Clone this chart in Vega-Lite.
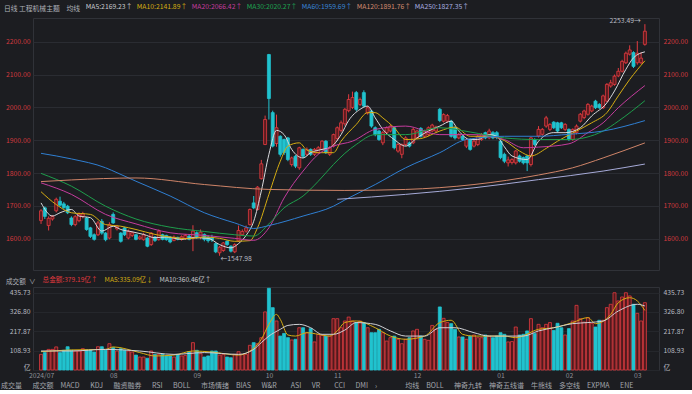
{
"$schema":"https://vega.github.io/schema/vega-lite/v6.json",
"background":"#1c1d21",
"padding":0,
"spacing":2,
"config":{"font":"Noto Sans CJK SC","view":{"stroke":"#303238","strokeWidth":1},"axis":{"labelFont":"Noto Sans CJK SC"},"legend":{"labelFont":"Noto Sans CJK SC","titleFont":"Noto Sans CJK SC"}},
"resolve":{"scale":{"color":"independent","x":"independent"},"legend":{"color":"independent"}},
"datasets":{
"k":[
{"d":"2024-07-05","i":0,"o":1655,"h":1690,"l":1645,"c":1685,"v":88},
{"d":"2024-07-08","i":1,"o":1694,"h":1698,"l":1660,"c":1668,"v":98},
{"d":"2024-07-09","i":2,"o":1640,"h":1668,"l":1625,"c":1662,"v":116},
{"d":"2024-07-10","i":3,"o":1660,"h":1672,"l":1655,"c":1668,"v":116},
{"d":"2024-07-11","i":4,"o":1685,"h":1725,"l":1680,"c":1720,"v":130},
{"d":"2024-07-12","i":5,"o":1714,"h":1728,"l":1698,"c":1702,"v":98},
{"d":"2024-07-15","i":6,"o":1706,"h":1712,"l":1690,"c":1695,"v":111},
{"d":"2024-07-16","i":7,"o":1699,"h":1703,"l":1675,"c":1679,"v":131},
{"d":"2024-07-17","i":8,"o":1663,"h":1668,"l":1638,"c":1643,"v":111},
{"d":"2024-07-18","i":9,"o":1643,"h":1672,"l":1638,"c":1667,"v":107},
{"d":"2024-07-19","i":10,"o":1655,"h":1680,"l":1650,"c":1674,"v":107},
{"d":"2024-07-22","i":11,"o":1668,"h":1682,"l":1662,"c":1676,"v":120},
{"d":"2024-07-23","i":12,"o":1663,"h":1666,"l":1624,"c":1628,"v":112},
{"d":"2024-07-24","i":13,"o":1633,"h":1636,"l":1602,"c":1607,"v":112},
{"d":"2024-07-25","i":14,"o":1612,"h":1616,"l":1594,"c":1598,"v":101},
{"d":"2024-07-26","i":15,"o":1612,"h":1654,"l":1608,"c":1648,"v":131},
{"d":"2024-07-29","i":16,"o":1653,"h":1660,"l":1612,"c":1617,"v":131},
{"d":"2024-07-30","i":17,"o":1617,"h":1620,"l":1592,"c":1597,"v":112},
{"d":"2024-07-31","i":18,"o":1602,"h":1650,"l":1598,"c":1643,"v":148},
{"d":"2024-08-01","i":19,"o":1674,"h":1680,"l":1645,"c":1648,"v":126},
{"d":"2024-08-02","i":20,"o":1630,"h":1642,"l":1625,"c":1638,"v":107},
{"d":"2024-08-05","i":21,"o":1617,"h":1620,"l":1588,"c":1592,"v":120},
{"d":"2024-08-06","i":22,"o":1633,"h":1636,"l":1608,"c":1612,"v":111},
{"d":"2024-08-07","i":23,"o":1602,"h":1628,"l":1598,"c":1623,"v":107},
{"d":"2024-08-08","i":24,"o":1610,"h":1622,"l":1605,"c":1618,"v":101},
{"d":"2024-08-09","i":25,"o":1612,"h":1615,"l":1595,"c":1598,"v":84},
{"d":"2024-08-12","i":26,"o":1600,"h":1610,"l":1596,"c":1605,"v":73},
{"d":"2024-08-13","i":27,"o":1597,"h":1618,"l":1594,"c":1612,"v":73},
{"d":"2024-08-14","i":28,"o":1602,"h":1605,"l":1574,"c":1577,"v":66},
{"d":"2024-08-15","i":29,"o":1582,"h":1620,"l":1578,"c":1617,"v":107},
{"d":"2024-08-16","i":30,"o":1605,"h":1608,"l":1590,"c":1595,"v":88},
{"d":"2024-08-19","i":31,"o":1597,"h":1628,"l":1594,"c":1623,"v":88},
{"d":"2024-08-20","i":32,"o":1612,"h":1615,"l":1595,"c":1598,"v":88},
{"d":"2024-08-21","i":33,"o":1610,"h":1612,"l":1594,"c":1597,"v":79},
{"d":"2024-08-22","i":34,"o":1605,"h":1608,"l":1586,"c":1590,"v":79},
{"d":"2024-08-23","i":35,"o":1595,"h":1610,"l":1592,"c":1605,"v":73},
{"d":"2024-08-26","i":36,"o":1604,"h":1606,"l":1595,"c":1598,"v":88},
{"d":"2024-08-27","i":37,"o":1598,"h":1610,"l":1594,"c":1606,"v":79},
{"d":"2024-08-28","i":38,"o":1600,"h":1614,"l":1596,"c":1610,"v":82},
{"d":"2024-08-29","i":39,"o":1608,"h":1612,"l":1595,"c":1598,"v":103},
{"d":"2024-08-30","i":40,"o":1604,"h":1641,"l":1562,"c":1623,"v":154},
{"d":"2024-09-02","i":41,"o":1618,"h":1622,"l":1600,"c":1605,"v":111},
{"d":"2024-09-03","i":42,"o":1604,"h":1628,"l":1598,"c":1620,"v":92},
{"d":"2024-09-04","i":43,"o":1613,"h":1616,"l":1592,"c":1598,"v":73},
{"d":"2024-09-05","i":44,"o":1605,"h":1610,"l":1588,"c":1594,"v":79},
{"d":"2024-09-06","i":45,"o":1603,"h":1612,"l":1590,"c":1596,"v":107},
{"d":"2024-09-09","i":46,"o":1585,"h":1588,"l":1556,"c":1560,"v":107},
{"d":"2024-09-10","i":47,"o":1557,"h":1578,"l":1547.98,"c":1574,"v":84},
{"d":"2024-09-11","i":48,"o":1564,"h":1590,"l":1560,"c":1587,"v":88},
{"d":"2024-09-12","i":49,"o":1592,"h":1595,"l":1578,"c":1582,"v":73},
{"d":"2024-09-13","i":50,"o":1577,"h":1580,"l":1558,"c":1562,"v":69},
{"d":"2024-09-18","i":51,"o":1560,"h":1586,"l":1556,"c":1582,"v":88},
{"d":"2024-09-19","i":52,"o":1593,"h":1640,"l":1590,"c":1625,"v":103},
{"d":"2024-09-20","i":53,"o":1612,"h":1628,"l":1608,"c":1622,"v":88},
{"d":"2024-09-23","i":54,"o":1623,"h":1640,"l":1618,"c":1633,"v":88},
{"d":"2024-09-24","i":55,"o":1643,"h":1692,"l":1640,"c":1689,"v":139},
{"d":"2024-09-25","i":56,"o":1709,"h":1730,"l":1690,"c":1694,"v":154},
{"d":"2024-09-26","i":57,"o":1689,"h":1760,"l":1686,"c":1757,"v":148},
{"d":"2024-09-27","i":58,"o":1783,"h":1840,"l":1780,"c":1828,"v":182},
{"d":"2024-09-30","i":59,"o":1887,"h":1975,"l":1885,"c":1963,"v":327},
{"d":"2024-10-08","i":60,"o":2161,"h":2163,"l":1963,"c":2027,"v":460},
{"d":"2024-10-09","i":61,"o":1984,"h":1990,"l":1878,"c":1882,"v":351},
{"d":"2024-10-10","i":62,"o":1890,"h":1978,"l":1880,"c":1938,"v":276},
{"d":"2024-10-11","i":63,"o":1912,"h":1915,"l":1850,"c":1857,"v":191},
{"d":"2024-10-14","i":64,"o":1902,"h":1905,"l":1855,"c":1862,"v":206},
{"d":"2024-10-15","i":65,"o":1907,"h":1910,"l":1836,"c":1841,"v":182},
{"d":"2024-10-16","i":66,"o":1826,"h":1850,"l":1820,"c":1846,"v":169},
{"d":"2024-10-17","i":67,"o":1851,"h":1855,"l":1815,"c":1821,"v":173},
{"d":"2024-10-18","i":68,"o":1816,"h":1880,"l":1810,"c":1877,"v":238},
{"d":"2024-10-21","i":69,"o":1872,"h":1875,"l":1845,"c":1851,"v":238},
{"d":"2024-10-22","i":70,"o":1857,"h":1878,"l":1852,"c":1872,"v":210},
{"d":"2024-10-23","i":71,"o":1872,"h":1875,"l":1852,"c":1857,"v":233},
{"d":"2024-10-24","i":72,"o":1857,"h":1876,"l":1852,"c":1872,"v":158},
{"d":"2024-10-25","i":73,"o":1862,"h":1882,"l":1858,"c":1877,"v":201},
{"d":"2024-10-28","i":74,"o":1872,"h":1900,"l":1868,"c":1897,"v":195},
{"d":"2024-10-29","i":75,"o":1897,"h":1900,"l":1858,"c":1862,"v":191},
{"d":"2024-10-30","i":76,"o":1857,"h":1882,"l":1852,"c":1877,"v":191},
{"d":"2024-10-31","i":77,"o":1882,"h":1920,"l":1878,"c":1917,"v":289},
{"d":"2024-11-01","i":78,"o":1905,"h":1942,"l":1898,"c":1938,"v":289},
{"d":"2024-11-04","i":79,"o":1930,"h":1960,"l":1924,"c":1953,"v":238},
{"d":"2024-11-05","i":80,"o":1950,"h":1998,"l":1944,"c":1994,"v":276},
{"d":"2024-11-06","i":81,"o":1990,"h":2040,"l":1985,"c":2024,"v":298},
{"d":"2024-11-07","i":82,"o":2000,"h":2048,"l":1995,"c":2030,"v":276},
{"d":"2024-11-08","i":83,"o":2045,"h":2050,"l":1988,"c":1994,"v":267},
{"d":"2024-11-11","i":84,"o":2009,"h":2030,"l":2004,"c":2024,"v":276},
{"d":"2024-11-12","i":85,"o":2045,"h":2052,"l":2000,"c":2004,"v":267},
{"d":"2024-11-13","i":86,"o":1983,"h":2004,"l":1978,"c":1999,"v":238},
{"d":"2024-11-14","i":87,"o":1989,"h":1992,"l":1938,"c":1943,"v":210},
{"d":"2024-11-15","i":88,"o":1938,"h":1942,"l":1912,"c":1917,"v":210},
{"d":"2024-11-18","i":89,"o":1928,"h":1932,"l":1898,"c":1902,"v":229},
{"d":"2024-11-19","i":90,"o":1892,"h":1928,"l":1885,"c":1923,"v":210},
{"d":"2024-11-20","i":91,"o":1923,"h":1942,"l":1918,"c":1938,"v":163},
{"d":"2024-11-21","i":92,"o":1928,"h":1946,"l":1924,"c":1943,"v":182},
{"d":"2024-11-22","i":93,"o":1938,"h":1942,"l":1872,"c":1877,"v":191},
{"d":"2024-11-25","i":94,"o":1867,"h":1892,"l":1862,"c":1887,"v":173},
{"d":"2024-11-26","i":95,"o":1857,"h":1890,"l":1845,"c":1887,"v":148},
{"d":"2024-11-27","i":96,"o":1887,"h":1912,"l":1882,"c":1907,"v":173},
{"d":"2024-11-28","i":97,"o":1892,"h":1896,"l":1878,"c":1882,"v":182},
{"d":"2024-11-29","i":98,"o":1892,"h":1938,"l":1888,"c":1933,"v":220},
{"d":"2024-12-02","i":99,"o":1907,"h":1932,"l":1903,"c":1928,"v":229},
{"d":"2024-12-03","i":100,"o":1936,"h":1940,"l":1908,"c":1912,"v":191},
{"d":"2024-12-04","i":101,"o":1912,"h":1932,"l":1908,"c":1928,"v":173},
{"d":"2024-12-05","i":102,"o":1917,"h":1942,"l":1913,"c":1938,"v":167},
{"d":"2024-12-06","i":103,"o":1928,"h":1950,"l":1924,"c":1946,"v":251},
{"d":"2024-12-09","i":104,"o":1928,"h":1944,"l":1924,"c":1940,"v":229},
{"d":"2024-12-10","i":105,"o":1994,"h":1998,"l":1955,"c":1960,"v":355},
{"d":"2024-12-11","i":106,"o":1958,"h":1982,"l":1954,"c":1978,"v":291},
{"d":"2024-12-12","i":107,"o":1958,"h":1980,"l":1954,"c":1975,"v":267},
{"d":"2024-12-13","i":108,"o":1958,"h":1962,"l":1908,"c":1912,"v":261},
{"d":"2024-12-16","i":109,"o":1938,"h":1942,"l":1902,"c":1907,"v":229},
{"d":"2024-12-17","i":110,"o":1907,"h":1922,"l":1903,"c":1917,"v":186},
{"d":"2024-12-18","i":111,"o":1912,"h":1916,"l":1898,"c":1902,"v":186},
{"d":"2024-12-19","i":112,"o":1882,"h":1906,"l":1876,"c":1902,"v":173},
{"d":"2024-12-20","i":113,"o":1902,"h":1906,"l":1868,"c":1872,"v":191},
{"d":"2024-12-23","i":114,"o":1882,"h":1902,"l":1878,"c":1897,"v":197},
{"d":"2024-12-24","i":115,"o":1887,"h":1916,"l":1882,"c":1912,"v":182},
{"d":"2024-12-25","i":116,"o":1902,"h":1922,"l":1898,"c":1917,"v":182},
{"d":"2024-12-26","i":117,"o":1923,"h":1926,"l":1903,"c":1907,"v":197},
{"d":"2024-12-27","i":118,"o":1907,"h":1935,"l":1903,"c":1928,"v":191},
{"d":"2024-12-30","i":119,"o":1923,"h":1928,"l":1903,"c":1907,"v":182},
{"d":"2024-12-31","i":120,"o":1923,"h":1928,"l":1903,"c":1908,"v":191},
{"d":"2025-01-02","i":121,"o":1897,"h":1902,"l":1842,"c":1847,"v":210},
{"d":"2025-01-03","i":122,"o":1857,"h":1862,"l":1830,"c":1836,"v":201},
{"d":"2025-01-06","i":123,"o":1831,"h":1850,"l":1820,"c":1840,"v":158},
{"d":"2025-01-07","i":124,"o":1832,"h":1845,"l":1826,"c":1841,"v":160},
{"d":"2025-01-08","i":125,"o":1831,"h":1870,"l":1826,"c":1867,"v":242},
{"d":"2025-01-09","i":126,"o":1852,"h":1856,"l":1832,"c":1836,"v":197},
{"d":"2025-01-10","i":127,"o":1847,"h":1850,"l":1826,"c":1831,"v":201},
{"d":"2025-01-13","i":128,"o":1852,"h":1855,"l":1806,"c":1831,"v":220},
{"d":"2025-01-14","i":129,"o":1826,"h":1910,"l":1820,"c":1907,"v":289},
{"d":"2025-01-15","i":130,"o":1902,"h":1906,"l":1882,"c":1887,"v":205},
{"d":"2025-01-16","i":131,"o":1913,"h":1943,"l":1908,"c":1933,"v":257},
{"d":"2025-01-17","i":132,"o":1918,"h":1937,"l":1914,"c":1933,"v":238},
{"d":"2025-01-20","i":133,"o":1943,"h":1974,"l":1938,"c":1968,"v":257},
{"d":"2025-01-21","i":134,"o":1933,"h":1952,"l":1928,"c":1948,"v":267},
{"d":"2025-01-22","i":135,"o":1955,"h":1958,"l":1934,"c":1938,"v":223},
{"d":"2025-01-23","i":136,"o":1953,"h":1956,"l":1924,"c":1928,"v":263},
{"d":"2025-01-24","i":137,"o":1953,"h":1956,"l":1934,"c":1938,"v":238},
{"d":"2025-01-27","i":138,"o":1933,"h":1952,"l":1928,"c":1948,"v":197},
{"d":"2025-02-05","i":139,"o":1933,"h":1936,"l":1898,"c":1902,"v":233},
{"d":"2025-02-06","i":140,"o":1902,"h":1936,"l":1898,"c":1933,"v":276},
{"d":"2025-02-07","i":141,"o":1923,"h":1948,"l":1918,"c":1943,"v":364},
{"d":"2025-02-10","i":142,"o":1958,"h":1983,"l":1954,"c":1979,"v":289},
{"d":"2025-02-11","i":143,"o":1969,"h":1993,"l":1964,"c":1989,"v":270},
{"d":"2025-02-12","i":144,"o":1979,"h":2013,"l":1975,"c":2009,"v":295},
{"d":"2025-02-13","i":145,"o":1989,"h":2008,"l":1985,"c":2004,"v":263},
{"d":"2025-02-14","i":146,"o":2019,"h":2023,"l":1995,"c":1999,"v":242},
{"d":"2025-02-17","i":147,"o":2009,"h":2013,"l":1995,"c":1999,"v":280},
{"d":"2025-02-18","i":148,"o":1999,"h":2039,"l":1995,"c":2035,"v":280},
{"d":"2025-02-19","i":149,"o":2019,"h":2074,"l":2015,"c":2070,"v":351},
{"d":"2025-02-20","i":150,"o":2065,"h":2084,"l":2060,"c":2075,"v":370},
{"d":"2025-02-21","i":151,"o":2070,"h":2100,"l":2066,"c":2095,"v":435},
{"d":"2025-02-24","i":152,"o":2096,"h":2120,"l":2092,"c":2110,"v":389},
{"d":"2025-02-25","i":153,"o":2110,"h":2145,"l":2106,"c":2140,"v":411},
{"d":"2025-02-26","i":154,"o":2136,"h":2170,"l":2132,"c":2165,"v":435},
{"d":"2025-02-27","i":155,"o":2162,"h":2189,"l":2158,"c":2175,"v":417},
{"d":"2025-02-28","i":156,"o":2167,"h":2171,"l":2120,"c":2125,"v":370},
{"d":"2025-03-03","i":157,"o":2136,"h":2202,"l":2130,"c":2165,"v":319},
{"d":"2025-03-04","i":158,"o":2136,"h":2168,"l":2132,"c":2150,"v":276},
{"d":"2025-03-05","i":159,"o":2192,"h":2253.49,"l":2188,"c":2232,"v":379.19}
],
"ma":[
{"s":"MA5","i":0,"p":1709},{"s":"MA5","i":3,"p":1669},{"s":"MA5","i":5,"p":1679},{"s":"MA5","i":8,"p":1689},{"s":"MA5","i":10,"p":1669},{"s":"MA5","i":13,"p":1664},{"s":"MA5","i":16,"p":1623},{"s":"MA5","i":19,"p":1638},{"s":"MA5","i":21,"p":1628},{"s":"MA5","i":24,"p":1621},{"s":"MA5","i":27,"p":1613},{"s":"MA5","i":30,"p":1603},{"s":"MA5","i":33,"p":1605},{"s":"MA5","i":37,"p":1598},{"s":"MA5","i":40,"p":1603},{"s":"MA5","i":44,"p":1601},{"s":"MA5","i":47,"p":1582},{"s":"MA5","i":50,"p":1572},{"s":"MA5","i":52,"p":1585},{"s":"MA5","i":54,"p":1610},{"s":"MA5","i":56,"p":1653},{"s":"MA5","i":58,"p":1745},{"s":"MA5","i":60,"p":1857},{"s":"MA5","i":62,"p":1930},{"s":"MA5","i":64,"p":1917},{"s":"MA5","i":66,"p":1872},{"s":"MA5","i":69,"p":1846},{"s":"MA5","i":71,"p":1862},{"s":"MA5","i":74,"p":1872},{"s":"MA5","i":76,"p":1877},{"s":"MA5","i":79,"p":1917},{"s":"MA5","i":81,"p":1960},{"s":"MA5","i":84,"p":1994},{"s":"MA5","i":86,"p":2004},{"s":"MA5","i":88,"p":1968},{"s":"MA5","i":90,"p":1933},{"s":"MA5","i":93,"p":1902},{"s":"MA5","i":96,"p":1882},{"s":"MA5","i":99,"p":1907},{"s":"MA5","i":102,"p":1928},{"s":"MA5","i":105,"p":1943},{"s":"MA5","i":108,"p":1958},{"s":"MA5","i":110,"p":1928},{"s":"MA5","i":113,"p":1902},{"s":"MA5","i":115,"p":1902},{"s":"MA5","i":118,"p":1917},{"s":"MA5","i":120,"p":1912},{"s":"MA5","i":122,"p":1880},{"s":"MA5","i":124,"p":1852},{"s":"MA5","i":128,"p":1841},{"s":"MA5","i":131,"p":1897},{"s":"MA5","i":135,"p":1923},{"s":"MA5","i":138,"p":1923},{"s":"MA5","i":142,"p":1938},{"s":"MA5","i":145,"p":1974},{"s":"MA5","i":149,"p":2014},{"s":"MA5","i":151,"p":2050},{"s":"MA5","i":154,"p":2116},{"s":"MA5","i":156,"p":2151},{"s":"MA5","i":159,"p":2169.23},
{"s":"MA10","i":0,"p":1743},{"s":"MA10","i":4,"p":1704},{"s":"MA10","i":8,"p":1679},{"s":"MA10","i":13,"p":1674},{"s":"MA10","i":17,"p":1643},{"s":"MA10","i":21,"p":1638},{"s":"MA10","i":25,"p":1628},{"s":"MA10","i":30,"p":1613},{"s":"MA10","i":34,"p":1605},{"s":"MA10","i":39,"p":1600},{"s":"MA10","i":43,"p":1605},{"s":"MA10","i":47,"p":1601},{"s":"MA10","i":51,"p":1592},{"s":"MA10","i":55,"p":1594},{"s":"MA10","i":57,"p":1633},{"s":"MA10","i":60,"p":1735},{"s":"MA10","i":63,"p":1836},{"s":"MA10","i":65,"p":1882},{"s":"MA10","i":68,"p":1892},{"s":"MA10","i":70,"p":1870},{"s":"MA10","i":73,"p":1862},{"s":"MA10","i":77,"p":1862},{"s":"MA10","i":79,"p":1897},{"s":"MA10","i":83,"p":1948},{"s":"MA10","i":86,"p":1984},{"s":"MA10","i":88,"p":1984},{"s":"MA10","i":90,"p":1968},{"s":"MA10","i":93,"p":1938},{"s":"MA10","i":96,"p":1902},{"s":"MA10","i":100,"p":1905},{"s":"MA10","i":105,"p":1928},{"s":"MA10","i":109,"p":1940},{"s":"MA10","i":113,"p":1912},{"s":"MA10","i":118,"p":1912},{"s":"MA10","i":122,"p":1899},{"s":"MA10","i":126,"p":1867},{"s":"MA10","i":129,"p":1852},{"s":"MA10","i":133,"p":1875},{"s":"MA10","i":136,"p":1897},{"s":"MA10","i":141,"p":1928},{"s":"MA10","i":145,"p":1953},{"s":"MA10","i":149,"p":1984},{"s":"MA10","i":152,"p":2035},{"s":"MA10","i":155,"p":2085},{"s":"MA10","i":159,"p":2141.89},
{"s":"MA20","i":0,"p":1770},{"s":"MA20","i":8,"p":1735},{"s":"MA20","i":17,"p":1674},{"s":"MA20","i":25,"p":1645},{"s":"MA20","i":34,"p":1618},{"s":"MA20","i":43,"p":1610},{"s":"MA20","i":51,"p":1601},{"s":"MA20","i":56,"p":1595},{"s":"MA20","i":60,"p":1633},{"s":"MA20","i":64,"p":1724},{"s":"MA20","i":69,"p":1806},{"s":"MA20","i":73,"p":1857},{"s":"MA20","i":77,"p":1882},{"s":"MA20","i":82,"p":1897},{"s":"MA20","i":88,"p":1933},{"s":"MA20","i":96,"p":1943},{"s":"MA20","i":105,"p":1917},{"s":"MA20","i":114,"p":1917},{"s":"MA20","i":122,"p":1902},{"s":"MA20","i":127,"p":1877},{"s":"MA20","i":131,"p":1879},{"s":"MA20","i":139,"p":1889},{"s":"MA20","i":144,"p":1923},{"s":"MA20","i":148,"p":1953},{"s":"MA20","i":152,"p":1999},{"s":"MA20","i":159,"p":2066.42},
{"s":"MA30","i":0,"p":1799},{"s":"MA30","i":8,"p":1760},{"s":"MA30","i":17,"p":1699},{"s":"MA30","i":25,"p":1660},{"s":"MA30","i":34,"p":1635},{"s":"MA30","i":43,"p":1622},{"s":"MA30","i":51,"p":1612},{"s":"MA30","i":56,"p":1608},{"s":"MA30","i":60,"p":1645},{"s":"MA30","i":64,"p":1694},{"s":"MA30","i":69,"p":1730},{"s":"MA30","i":73,"p":1775},{"s":"MA30","i":77,"p":1826},{"s":"MA30","i":80,"p":1860},{"s":"MA30","i":83,"p":1887},{"s":"MA30","i":88,"p":1917},{"s":"MA30","i":96,"p":1917},{"s":"MA30","i":105,"p":1938},{"s":"MA30","i":113,"p":1925},{"s":"MA30","i":122,"p":1907},{"s":"MA30","i":131,"p":1902},{"s":"MA30","i":139,"p":1902},{"s":"MA30","i":148,"p":1928},{"s":"MA30","i":152,"p":1958},{"s":"MA30","i":159,"p":2020.27},
{"s":"MA60","i":0,"p":1860},{"s":"MA60","i":8,"p":1843},{"s":"MA60","i":17,"p":1816},{"s":"MA60","i":20,"p":1801},{"s":"MA60","i":25,"p":1775},{"s":"MA60","i":34,"p":1730},{"s":"MA60","i":43,"p":1679},{"s":"MA60","i":51,"p":1648},{"s":"MA60","i":56,"p":1631},{"s":"MA60","i":60,"p":1640},{"s":"MA60","i":69,"p":1669},{"s":"MA60","i":77,"p":1699},{"s":"MA60","i":80,"p":1718},{"s":"MA60","i":88,"p":1765},{"s":"MA60","i":96,"p":1816},{"s":"MA60","i":105,"p":1862},{"s":"MA60","i":112,"p":1902},{"s":"MA60","i":122,"p":1912},{"s":"MA60","i":131,"p":1912},{"s":"MA60","i":139,"p":1918},{"s":"MA60","i":148,"p":1928},{"s":"MA60","i":159,"p":1959.69},
{"s":"MA120","i":0,"p":1774},{"s":"MA120","i":8,"p":1779},{"s":"MA120","i":25,"p":1785},{"s":"MA120","i":43,"p":1765},{"s":"MA120","i":60,"p":1750},{"s":"MA120","i":80,"p":1747},{"s":"MA120","i":96,"p":1750},{"s":"MA120","i":114,"p":1765},{"s":"MA120","i":131,"p":1794},{"s":"MA120","i":140,"p":1816},{"s":"MA120","i":148,"p":1846},{"s":"MA120","i":159,"p":1891.76},
{"s":"MA250","i":78,"p":1720},{"s":"MA250","i":96,"p":1735},{"s":"MA250","i":114,"p":1755},{"s":"MA250","i":131,"p":1780},{"s":"MA250","i":148,"p":1806},{"s":"MA250","i":159,"p":1827.35}
],
"vma":[
{"s":"VMA5","i":0,"v":103},{"s":"VMA5","i":8,"v":113},{"s":"VMA5","i":17,"v":116},{"s":"VMA5","i":19,"v":130},{"s":"VMA5","i":26,"v":98},{"s":"VMA5","i":30,"v":79},{"s":"VMA5","i":35,"v":84},{"s":"VMA5","i":40,"v":107},{"s":"VMA5","i":45,"v":101},{"s":"VMA5","i":52,"v":84},{"s":"VMA5","i":55,"v":107},{"s":"VMA5","i":58,"v":173},{"s":"VMA5","i":60,"v":257},{"s":"VMA5","i":62,"v":313},{"s":"VMA5","i":63,"v":285},{"s":"VMA5","i":65,"v":197},{"s":"VMA5","i":67,"v":191},{"s":"VMA5","i":70,"v":210},{"s":"VMA5","i":73,"v":201},{"s":"VMA5","i":76,"v":191},{"s":"VMA5","i":78,"v":220},{"s":"VMA5","i":80,"v":267},{"s":"VMA5","i":83,"v":276},{"s":"VMA5","i":88,"v":238},{"s":"VMA5","i":92,"v":191},{"s":"VMA5","i":96,"v":173},{"s":"VMA5","i":101,"v":191},{"s":"VMA5","i":105,"v":267},{"s":"VMA5","i":108,"v":280},{"s":"VMA5","i":111,"v":201},{"s":"VMA5","i":114,"v":191},{"s":"VMA5","i":118,"v":191},{"s":"VMA5","i":122,"v":191},{"s":"VMA5","i":125,"v":182},{"s":"VMA5","i":131,"v":229},{"s":"VMA5","i":135,"v":238},{"s":"VMA5","i":140,"v":267},{"s":"VMA5","i":144,"v":295},{"s":"VMA5","i":146,"v":261},{"s":"VMA5","i":150,"v":313},{"s":"VMA5","i":152,"v":379},{"s":"VMA5","i":155,"v":407},{"s":"VMA5","i":157,"v":389},{"s":"VMA5","i":159,"v":335.09},
{"s":"VMA10","i":0,"v":107},{"s":"VMA10","i":8,"v":107},{"s":"VMA10","i":17,"v":116},{"s":"VMA10","i":26,"v":107},{"s":"VMA10","i":35,"v":88},{"s":"VMA10","i":43,"v":98},{"s":"VMA10","i":52,"v":88},{"s":"VMA10","i":56,"v":116},{"s":"VMA10","i":58,"v":154},{"s":"VMA10","i":60,"v":191},{"s":"VMA10","i":63,"v":229},{"s":"VMA10","i":65,"v":251},{"s":"VMA10","i":68,"v":257},{"s":"VMA10","i":71,"v":238},{"s":"VMA10","i":74,"v":201},{"s":"VMA10","i":77,"v":201},{"s":"VMA10","i":80,"v":225},{"s":"VMA10","i":83,"v":267},{"s":"VMA10","i":88,"v":257},{"s":"VMA10","i":92,"v":220},{"s":"VMA10","i":96,"v":191},{"s":"VMA10","i":101,"v":191},{"s":"VMA10","i":105,"v":238},{"s":"VMA10","i":109,"v":238},{"s":"VMA10","i":114,"v":210},{"s":"VMA10","i":118,"v":191},{"s":"VMA10","i":122,"v":191},{"s":"VMA10","i":127,"v":191},{"s":"VMA10","i":131,"v":220},{"s":"VMA10","i":135,"v":238},{"s":"VMA10","i":140,"v":261},{"s":"VMA10","i":144,"v":267},{"s":"VMA10","i":148,"v":276},{"s":"VMA10","i":152,"v":332},{"s":"VMA10","i":157,"v":370},{"s":"VMA10","i":159,"v":360.46}
],
"hi":[{"i":159,"p":2253.49,"t":"2253.49→"}],
"lo":[{"i":47,"p":1547.98,"t":"←1547.98"}]
},
"vconcat":[
{
"width":626,"height":252,
"layer":[
{"data":{"name":"k"},"mark":{"type":"rule","strokeWidth":1},
"encoding":{
"x":{"field":"i","type":"quantitative","scale":{"domain":[-0.8,161.4],"nice":false,"zero":false},"axis":null},
"y":{"field":"l","type":"quantitative","scale":{"domain":[1504.6,2272.3],"nice":false,"zero":false},"axis":{"orient":"left","values":[1600,1700,1800,1900,2000,2100,2200],"format":".2f","labelColor":"#d23a3f","labelFontSize":6.8,"ticks":false,"domain":false,"grid":true,"gridColor":"#2a2c32","labelPadding":3,"minExtent":32,"maxExtent":32,"title":null}},
"y2":{"field":"h"},
"color":{"condition":{"test":"datum.c >= datum.o","value":"#e23b40"},"value":"#21c3cf"}}},
{"data":{"name":"k"},"mark":{"type":"bar","size":3,"strokeWidth":0.8},
"encoding":{
"x":{"field":"i","type":"quantitative"},
"y":{"field":"o","type":"quantitative","scale":{"domain":[1504.6,2272.3],"nice":false,"zero":false},"axis":null},
"y2":{"field":"c"},
"fill":{"condition":{"test":"datum.c >= datum.o","value":"#5a1b1f"},"value":"#21c3cf"},
"stroke":{"condition":{"test":"datum.c >= datum.o","value":"#e23b40"},"value":"#21c3cf"}}},
{"data":{"name":"ma"},"mark":{"type":"line","strokeWidth":1,"interpolate":"monotone"},
"encoding":{
"x":{"field":"i","type":"quantitative"},
"y":{"field":"p","type":"quantitative","scale":{"domain":[1504.6,2272.3],"nice":false,"zero":false},"axis":{"orient":"right","values":[1600,1700,1800,1900,2000,2100,2200],"format":".2f","labelColor":"#d23a3f","labelFontSize":6.8,"ticks":false,"domain":false,"grid":false,"labelPadding":4,"minExtent":34,"maxExtent":34,"title":null}},
"color":{"field":"s","type":"nominal","scale":{"domain":["MA5","MA10","MA20","MA30","MA60","MA120","MA250"],"range":["#d9dade","#d6ad12","#c53c9e","#1e9e4c","#2f7fd2","#cf8468","#a6aad8"]},
"legend":{"orient":"none","legendX":-29,"legendY":-17,"direction":"horizontal","columns":7,"gridAlign":"none","title":"日线\u2009工程机械主题\u2002\u2002均线","titleOrient":"left","titleBaseline":"top","titleColor":"#aeb1b8","titleFontSize":6.8,"titleFontWeight":"normal","titlePadding":-2,"labelFontSize":6.8,"labelBaseline":"top","symbolSize":0,"symbolStrokeWidth":0,"symbolOpacity":0,"labelOffset":0,"columnPadding":-3,
"labelExpr":"datum.value === 'MA5' ? 'MA5:2169.23↑' : datum.value === 'MA10' ? 'MA10:2141.89↑' : datum.value === 'MA20' ? 'MA20:2066.42↑' : datum.value === 'MA30' ? 'MA30:2020.27↑' : datum.value === 'MA60' ? 'MA60:1959.69↑' : datum.value === 'MA120' ? 'MA120:1891.76↑' : 'MA250:1827.35↑'",
"encode":{"labels":{"update":{"fill":{"signal":"datum.value === 'MA5' ? '#c9cacf' : datum.value === 'MA10' ? '#d6ad12' : datum.value === 'MA20' ? '#c53c9e' : datum.value === 'MA30' ? '#1ea452' : datum.value === 'MA60' ? '#3a86d8' : datum.value === 'MA120' ? '#d48c70' : '#a9aee0'"}}}}}}}},
{"data":{"name":"hi"},"mark":{"type":"text","align":"right","dx":-4,"dy":-3,"fontSize":6.8,"color":"#b8bbc1"},
"encoding":{"x":{"field":"i","type":"quantitative"},"y":{"field":"p","type":"quantitative","scale":{"domain":[1504.6,2272.3],"nice":false,"zero":false},"axis":null},"text":{"field":"t"}}},
{"data":{"name":"lo"},"mark":{"type":"text","align":"left","dx":1,"dy":3,"fontSize":6.8,"color":"#b8bbc1"},
"encoding":{"x":{"field":"i","type":"quantitative"},"y":{"field":"p","type":"quantitative","scale":{"domain":[1504.6,2272.3],"nice":false,"zero":false},"axis":null},"text":{"field":"t"}}}
],
"resolve":{"scale":{"y":"independent"}}
},
{
"width":626,"height":83,
"title":{"text":"\u2002成交量\u2002\u2002\u2002成交额\u2002\u2002MACD\u2002\u2002\u2002KDJ\u2002\u2002\u2002融资融券\u2002\u2002\u2002RSI\u2002\u2002\u2002BOLL\u2002\u2002\u2002市场情绪\u2002\u2002BIAS\u2002\u2002\u2002W&R\u2002\u2002\u2002\u2002ASI\u2002\u2002\u2002VR\u2002\u2002\u2002\u2002CCI\u2002\u2002\u2002DMI\u2002\u2002›\u2002\u2002\u2002\u2002\u2002\u2002\u2002\u2002均线\u2002\u2002BOLL\u2002\u2002\u2002神奇九转\u2002\u2002神奇五线谱\u2002\u2002牛熊线\u2002\u2002多空线\u2002\u2002EXPMA\u2002\u2002\u2002ENE","orient":"bottom","anchor":"start","frame":"bounds","fontSize":7,"fontWeight":"normal","color":"#a3a6ad","offset":3},
"layer":[
{"data":{"name":"k"},"mark":{"type":"bar","size":3,"strokeWidth":0.8},
"encoding":{
"x":{"field":"i","type":"quantitative","scale":{"domain":[-0.8,161.4],"nice":false,"zero":false},"axis":{"orient":"bottom","values":[0,19,41,60,78,99,121,139,157],"labelExpr":"datum.value == 0 ? '2024/07' : datum.value == 19 ? '08' : datum.value == 41 ? '09' : datum.value == 60 ? '10' : datum.value == 78 ? '11' : datum.value == 99 ? '12' : datum.value == 121 ? '01' : datum.value == 139 ? '02' : '03'","labelColor":"#8d9097","labelFontSize":6.8,"ticks":false,"domain":false,"grid":false,"labelPadding":2,"title":null}},
"y":{"field":"v","type":"quantitative","scale":{"domain":[0,467.3],"nice":false},"axis":{"orient":"left","values":[0,108.93,217.87,326.8,435.73],"labelExpr":"datum.value == 0 ? '亿' : format(datum.value, '.2f')","labelColor":"#b9bcc2","labelFontSize":6.8,"ticks":false,"domain":false,"grid":true,"gridColor":"#25272c","labelPadding":3,"labelFlush":true,"minExtent":32,"maxExtent":32,"title":null}},
"fill":{"condition":{"test":"datum.c >= datum.o","value":"#4f1a1d"},"value":"#21c3cf"},
"stroke":{"condition":{"test":"datum.c >= datum.o","value":"#e23b40"},"value":"#21c3cf"}}},
{"data":{"name":"vma"},"mark":{"type":"line","strokeWidth":1,"interpolate":"monotone"},
"encoding":{
"x":{"field":"i","type":"quantitative"},
"y":{"field":"v","type":"quantitative","scale":{"domain":[0,467.3],"nice":false},"axis":{"orient":"right","values":[0,108.93,217.87,326.8,435.73],"labelExpr":"datum.value == 0 ? '亿' : format(datum.value, '.2f')","labelColor":"#b9bcc2","labelFontSize":6.8,"ticks":false,"domain":false,"grid":false,"labelPadding":4,"labelFlush":true,"minExtent":34,"maxExtent":34,"title":null}},
"color":{"field":"s","type":"nominal","scale":{"domain":["总金额","VMA5","VMA10"],"range":["#e0393e","#d6ad12","#d0d1d5"]},
"legend":{"orient":"none","legendX":-27,"legendY":-13,"direction":"horizontal","columns":3,"gridAlign":"none","title":"成交额\u2002∨","titleOrient":"left","titleBaseline":"top","titleColor":"#aeb1b8","titleFontSize":6.6,"titleFontWeight":"normal","titlePadding":0,"labelFontSize":6.6,"labelBaseline":"top","symbolSize":0,"symbolStrokeWidth":0,"symbolOpacity":0,"labelOffset":0,"columnPadding":0,
"labelExpr":"datum.value === '总金额' ? '总金额:379.19亿↑' : datum.value === 'VMA5' ? 'MA5:335.09亿↓' : 'MA10:360.46亿↑'",
"encode":{"labels":{"update":{"fill":{"signal":"datum.value === '总金额' ? '#e0393e' : datum.value === 'VMA5' ? '#d6ad12' : '#c8c9cd'"}}}}}}}}
],
"resolve":{"scale":{"y":"independent"}}
}
]
}
